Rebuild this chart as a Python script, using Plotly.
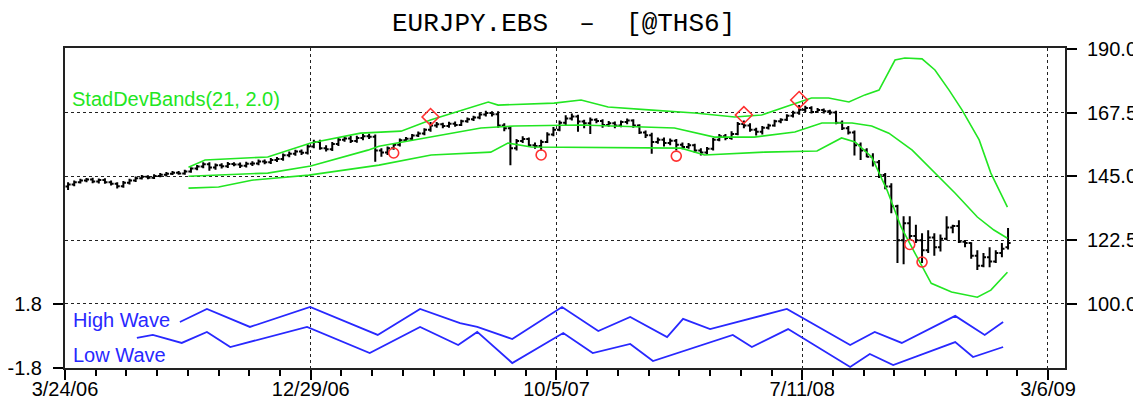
import numpy as np
import plotly.graph_objects as go

# ---------------- data ----------------
x_tick_pos = [0, 40, 80, 120, 160]
x_tick_labels = ["3/24/06", "12/29/06", "10/5/07", "7/11/08", "3/6/09"]
price_ticks = [100.0, 122.5, 145.0, 167.5, 190.0]
wave_ticks = [-1.8, 1.8]

bar_open = [
    141.5, 142.2, 143.0, 143.6, 143.9, 143.2, 143.8, 143.0, 142.4, 141.6,
    142.8, 143.6, 144.4, 144.9, 144.6, 145.2, 145.6, 146.0, 146.3, 146.1,
    146.8, 147.8, 148.5, 149.3, 148.2, 149.0, 148.6, 149.4, 149.2, 148.8,
    149.5, 149.6, 150.3, 150.0, 150.8, 151.2, 152.5, 153.0, 153.8, 153.4,
    155.6, 157.2, 155.0, 154.6, 156.5, 158.0, 158.4, 157.5, 158.6, 159.2,
    159.0, 154.2, 153.5, 155.0, 156.2, 157.8, 158.3, 159.5, 160.2, 161.5,
    163.0, 163.4, 162.8, 163.6, 163.2, 164.5, 165.2, 165.8, 166.9, 167.4,
    167.0, 163.0, 162.0, 155.0, 157.5, 158.2, 156.0, 155.8, 157.2, 159.8,
    161.5, 164.0, 165.5, 166.2, 164.4, 163.8, 165.0, 164.6, 163.2, 163.8,
    163.0, 164.2, 164.8, 163.0, 160.5, 159.6, 157.2, 158.0, 156.8, 157.6,
    156.2, 155.4, 156.0, 154.2, 153.5, 154.8, 158.0, 159.2, 158.6, 160.0,
    163.5, 163.0, 161.5, 160.8, 162.2, 163.0, 164.5, 165.0, 166.4, 167.5,
    168.6, 169.2, 167.8, 168.5, 168.0, 167.6, 164.0, 162.0, 160.5, 156.0,
    154.2, 152.0, 150.0, 145.5, 141.5, 134.5, 122.5, 128.5, 124.0, 122.5,
    119.0, 123.5, 120.0, 123.0, 127.0, 127.5, 122.0, 121.5, 117.0, 113.5,
    116.5, 115.0, 118.0, 120.0,
]
bar_high = [
    143.0, 143.6, 144.2, 144.5, 144.6, 144.3, 144.4, 143.6, 143.0, 143.4,
    144.2, 145.0, 145.5, 145.4, 145.8, 146.2, 146.6, 146.9, 146.9, 147.4,
    148.3, 149.1, 150.0, 150.0, 149.6, 149.7, 150.1, 150.0, 149.9, 150.2,
    150.4, 151.0, 151.0, 151.5, 151.9, 153.1, 153.8, 154.4, 154.5, 156.4,
    158.0, 158.0, 156.0, 157.2, 158.8, 159.2, 159.3, 159.4, 160.0, 160.1,
    159.8, 155.0, 155.6, 156.8, 158.4, 158.9, 160.0, 160.9, 162.0, 164.2,
    164.2, 164.0, 164.3, 164.4, 165.0, 165.8, 166.4, 167.5, 168.2, 168.0,
    168.0, 163.8, 162.6, 158.2, 159.2, 158.8, 157.0, 158.0, 160.6, 162.5,
    164.8, 166.6, 167.2, 166.8, 165.0, 165.8, 165.6, 165.2, 164.6, 164.4,
    164.8, 165.5, 165.2, 163.4, 161.2, 160.4, 158.8, 158.8, 158.4, 158.2,
    157.0, 156.8, 156.6, 155.0, 155.4, 158.6, 160.0, 160.0, 161.0, 164.2,
    164.8, 163.8, 162.2, 162.8, 163.6, 165.0, 165.6, 167.0, 168.2, 170.2,
    170.0, 169.8, 169.2, 169.0, 168.6, 168.2, 164.8, 162.8, 161.2, 157.0,
    155.0, 153.2, 150.8, 146.2, 142.6, 135.0, 131.0, 131.0, 128.0, 125.0,
    126.0, 125.0, 124.5, 131.0, 128.0, 129.6, 122.6, 121.8, 119.0, 118.0,
    120.0, 119.0, 121.5, 126.8,
]
bar_low = [
    140.2, 141.6, 142.5, 143.0, 142.6, 142.5, 142.4, 141.8, 140.8, 141.0,
    142.2, 143.1, 143.9, 144.0, 144.1, 144.7, 145.0, 145.5, 145.6, 145.6,
    146.3, 147.2, 147.9, 147.0, 147.4, 147.8, 148.0, 148.6, 148.0, 148.2,
    148.7, 149.0, 149.3, 149.4, 150.1, 150.6, 151.8, 152.3, 152.6, 152.8,
    155.0, 154.4, 153.8, 154.0, 155.8, 157.3, 156.8, 156.9, 157.8, 158.2,
    150.2, 152.0, 152.6, 154.4, 155.6, 157.2, 157.6, 158.9, 159.6, 160.8,
    162.2, 162.0, 162.2, 162.6, 162.8, 164.0, 164.6, 165.2, 166.2, 166.2,
    162.2, 161.0, 149.0, 154.2, 156.8, 155.4, 154.8, 154.2, 156.8, 159.2,
    161.0, 163.2, 164.8, 160.8, 162.0, 160.0, 163.8, 162.2, 162.6, 162.0,
    162.4, 163.4, 162.2, 160.0, 158.6, 153.0, 156.6, 155.6, 156.0, 154.2,
    154.6, 154.8, 153.4, 152.4, 152.8, 154.2, 157.4, 157.8, 158.0, 159.6,
    162.0, 160.8, 159.5, 159.8, 161.6, 162.6, 163.8, 164.6, 165.8, 166.8,
    167.8, 167.2, 167.4, 167.2, 166.8, 163.4, 161.4, 159.8, 152.4, 150.8,
    151.8, 148.5, 144.5, 140.5, 132.0, 114.5, 114.0, 122.5, 121.5, 114.5,
    118.0, 117.0, 118.5, 122.5, 125.0, 121.5, 120.0, 116.0, 112.0, 113.0,
    113.0, 114.5, 116.5, 119.2,
]
bar_close = [
    142.2, 143.0, 143.6, 143.9, 143.2, 143.8, 143.0, 142.4, 141.6, 142.8,
    143.6, 144.4, 144.9, 144.6, 145.2, 145.6, 146.0, 146.3, 146.1, 146.8,
    147.8, 148.5, 149.3, 148.2, 149.0, 148.6, 149.4, 149.2, 148.8, 149.5,
    149.6, 150.3, 150.0, 150.8, 151.2, 152.5, 153.0, 153.8, 153.4, 155.6,
    157.2, 155.0, 154.6, 156.5, 158.0, 158.4, 157.5, 158.6, 159.2, 159.0,
    154.2, 153.5, 155.0, 156.2, 157.8, 158.3, 159.5, 160.2, 161.5, 163.0,
    163.4, 162.8, 163.6, 163.2, 164.5, 165.2, 165.8, 166.9, 167.4, 167.0,
    163.0, 162.0, 155.0, 157.5, 158.2, 156.0, 155.8, 157.2, 159.8, 161.5,
    164.0, 165.5, 166.2, 164.4, 163.8, 165.0, 164.6, 163.2, 163.8, 163.0,
    164.2, 164.8, 163.0, 160.5, 159.6, 157.2, 158.0, 156.8, 157.6, 156.2,
    155.4, 156.0, 154.2, 153.5, 154.8, 158.0, 159.2, 158.6, 160.0, 163.5,
    163.0, 161.5, 160.8, 162.2, 163.0, 164.5, 165.0, 166.4, 167.5, 168.6,
    169.2, 167.8, 168.5, 168.0, 167.6, 164.0, 162.0, 160.5, 156.0, 154.2,
    152.0, 150.0, 145.5, 141.5, 134.5, 122.5, 128.5, 124.0, 122.5, 119.0,
    123.5, 120.0, 123.0, 127.0, 127.5, 122.0, 121.5, 117.0, 113.5, 116.5,
    115.0, 118.0, 119.5, 121.5,
]

upper_idx = [19.6, 22.3, 32.5, 39.5, 47.6, 54.2, 59.1, 68.4, 70.0, 79.1, 83.5, 87.9, 94.5,
             102.0, 108.5, 112.9, 118.6, 121.0, 123.8, 127.1, 129.7, 132.0, 134.6, 136.2,
             139.0, 141.1, 143.4, 145.5, 148.3, 150.2, 152.9]
upper_val = [148.3, 150.8, 151.9, 156.8, 160.3, 161.0, 165.0, 171.3, 170.2, 170.9, 172.0, 169.5, 168.5,
             167.4, 166.0, 166.7, 170.9, 172.7, 172.7, 171.3, 173.8, 175.5, 186.1, 186.8,
             186.5, 182.6, 175.5, 168.5, 157.9, 146.2, 134.2]
middle_idx = [19.6, 32.5, 39.5, 48.8, 50.6, 59.1, 67.2, 72.6, 83.5, 98.7, 105.2, 111.7, 118.3,
              122.7, 127.6, 130.8, 133.6, 137.4, 141.1, 144.4, 148.0, 150.7, 152.9]
middle_val = [145.1, 146.2, 148.7, 154.3, 155.7, 158.9, 162.1, 162.8, 163.2, 162.1, 158.9, 158.9, 160.7,
              163.9, 163.9, 162.8, 160.3, 154.3, 146.2, 139.1, 130.7, 126.1, 123.2]
lower_idx = [19.6, 24.5, 29.9, 39.2, 50.6, 59.1, 68.8, 71.6, 75.4, 99.8, 103.6, 113.4, 121.9,
             125.9, 128.1, 130.8, 133.3, 135.6, 138.2, 140.5, 143.8, 148.0, 150.2, 152.9]
lower_val = [140.9, 141.3, 143.7, 145.5, 149.0, 152.6, 153.6, 156.8, 155.4, 155.0, 152.6, 153.6, 154.0,
             158.6, 157.2, 151.9, 140.2, 127.1, 116.5, 107.3, 104.2, 102.4, 104.9, 111.2]

circle_idx = [53, 77, 99, 137, 139]
circle_val = [153.3, 152.6, 152.2, 121.0, 114.8]
diamond_idx = [59, 110, 119]
diamond_val = [166.0, 166.7, 172.0]

high_wave_idx = [18.2, 22.6, 29.6, 39.4, 50.4, 57.3, 63.8, 66.6, 72.3, 80.4, 86.3, 91.5, 97.5,
                 100.1, 104.5, 111.5, 117.0, 127.3, 131.3, 135.7, 144.4, 149.2, 152.2]
high_wave_val = [0.79, 1.52, 0.51, 1.63, 0.06, 1.52, 0.73, 0.51, -0.17, 1.63, 0.28, 1.07, -0.06,
                 0.96, 0.39, 1.01, 1.52, -0.51, 0.23, -0.39, 1.13, 0.06, 0.79]
low_wave_idx = [11.2, 13.8, 18.5, 22.6, 26.4, 38.9, 49.1, 57.3, 63.5, 66.6, 72.3, 80.6, 85.4,
                91.5, 95.2, 108.2, 111.3, 117.2, 127.3, 130.5, 134.3, 144.4, 147.3, 152.2]
low_wave_val = [-0.11, 0.06, -0.39, 0.23, -0.62, 0.51, -0.96, 0.51, -0.51, 0.23, -1.52, 0.17, -0.96,
                -0.45, -1.41, 0.06, -0.62, 0.39, -1.74, -1.01, -1.63, -0.34, -1.18, -0.62]

# ---------------- figure ----------------
OFF = 0.5  # bars sit in the middle of their slot
bar_x = np.arange(len(bar_close)) + OFF

GREEN = "#22e622"
BLUE = "#2828ff"
RED = "#ff3030"
FONT = "Liberation Sans, Arial, sans-serif"

fig = go.Figure()

fig.add_trace(go.Ohlc(
    x=bar_x, open=bar_open, high=bar_high, low=bar_low, close=bar_close,
    increasing=dict(line=dict(color="black", width=2)),
    decreasing=dict(line=dict(color="black", width=2)),
    tickwidth=0.42, showlegend=False, hoverinfo="skip",
))

for xs, ys in [(upper_idx, upper_val), (middle_idx, middle_val), (lower_idx, lower_val)]:
    fig.add_trace(go.Scatter(x=np.array(xs) + OFF, y=ys, mode="lines",
                             line=dict(color=GREEN, width=1.6), showlegend=False, hoverinfo="skip"))

fig.add_trace(go.Scatter(x=np.array(circle_idx) + OFF, y=circle_val, mode="markers",
                         marker=dict(symbol="circle-open", size=10, color=RED, line=dict(width=1.6)),
                         showlegend=False, hoverinfo="skip"))
fig.add_trace(go.Scatter(x=np.array(diamond_idx) + OFF, y=diamond_val, mode="markers",
                         marker=dict(symbol="diamond-open", size=13, color=RED, line=dict(width=1.6)),
                         showlegend=False, hoverinfo="skip"))

for xs, ys in [(high_wave_idx, high_wave_val), (low_wave_idx, low_wave_val)]:
    fig.add_trace(go.Scatter(x=np.array(xs) + OFF, y=ys, mode="lines", yaxis="y2",
                             line=dict(color=BLUE, width=1.8), showlegend=False, hoverinfo="skip"))

tickfont = dict(family=FONT, size=20, color="black")

# the page body adds an 8px offset; figure is sized so the plot frame lands at 65..1065 x 48..368
fig.update_layout(
    width=1133, height=395,
    margin=dict(l=57, r=76, t=40, b=35, autoexpand=False),
    paper_bgcolor="white", plot_bgcolor="white",
    showlegend=False,
    xaxis=dict(
        range=[0, 162.77], tickvals=x_tick_pos, ticktext=x_tick_labels,
        ticks="outside", ticklen=10, tickwidth=1.5, tickcolor="black",
        showgrid=True, gridcolor="#222222", griddash="dot", gridwidth=1,
        minor=dict(dtick=5, tick0=0, ticks="outside", ticklen=6, tickcolor="black", showgrid=False),
        showline=True, linecolor="#222222", linewidth=2, mirror=True,
        zeroline=False, tickfont=tickfont, rangeslider=dict(visible=False),
        automargin=False, ticklabelstandoff=-8,
    ),
    yaxis=dict(
        side="right", range=[77.41, 190.35], tickvals=price_ticks,
        ticktext=[f"{v:.1f}" for v in price_ticks],
        ticks="outside", ticklen=10, tickwidth=1.5, tickcolor="black",
        showgrid=True, gridcolor="#222222", griddash="dot", gridwidth=1,
        showline=True, linecolor="#222222", linewidth=2,
        zeroline=False, tickfont=tickfont, automargin=False, ticklabelstandoff=6,
    ),
    yaxis2=dict(
        overlaying="y", side="left", range=[-1.8, 16.2], tickvals=wave_ticks,
        ticktext=[f"{v:.1f}" for v in wave_ticks],
        ticks="outside", ticklen=10, tickwidth=1.5, tickcolor="black",
        showgrid=False, showline=True, linecolor="#222222", linewidth=2,
        zeroline=False, tickfont=tickfont, automargin=False, ticklabelstandoff=7,
    ),
    annotations=[
        dict(text="EURJPY.EBS\u00a0\u00a0\u2013\u00a0\u00a0[@THS6]", xref="paper", yref="paper",
             x=0.4985, y=1.075, xanchor="center", yanchor="middle", showarrow=False,
             font=dict(family="Liberation Mono, Courier New, monospace", size=26, color="black")),
        dict(text="StadDevBands(21, 2.0)", xref="paper", yref="paper", x=0.005, y=0.84,
             xanchor="left", yanchor="middle", showarrow=False,
             font=dict(family=FONT, size=20, color=GREEN)),
        dict(text="High Wave", xref="paper", yref="paper", x=0.006, y=0.15,
             xanchor="left", yanchor="middle", showarrow=False,
             font=dict(family=FONT, size=20, color=BLUE)),
        dict(text="Low Wave", xref="paper", yref="paper", x=0.006, y=0.042,
             xanchor="left", yanchor="middle", showarrow=False,
             font=dict(family=FONT, size=20, color=BLUE)),
    ],
)

fig.write_html("out.html")
